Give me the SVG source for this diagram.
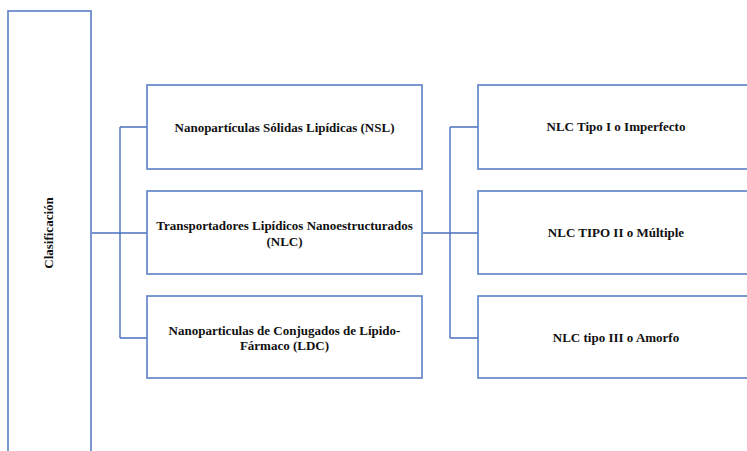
<svg xmlns="http://www.w3.org/2000/svg" width="747" height="451" viewBox="0 0 747 451">
<style>
.box{fill:#fff;stroke:#5a7fc6;stroke-width:1.6}
.ln{fill:none;stroke:#4a70bd;stroke-width:1.4}
.t{font-family:"Liberation Serif",serif;font-weight:bold;font-size:13px;fill:#111;text-anchor:middle}
</style>
<rect width="747" height="451" fill="#fff"/>
<g id="connectors">
<path class="ln" d="M92,233 H148 M120,127 V338 M120,127 H148 M120,338 H148"/>
<path class="ln" d="M423,233 H478 M450,127 V338 M450,127 H478 M450,338 H478"/>
</g>
<g id="clasificacion">
<rect class="box" x="8" y="11" width="83" height="460"/>
<text class="t" transform="translate(53,233) rotate(-90)">Clasificación</text>
</g>
<g id="nsl">
<rect class="box" x="147" y="85" width="275" height="84"/>
<text class="t" x="284.5" y="131.5">Nanopartículas Sólidas Lipídicas (NSL)</text>
</g>
<g id="nlc">
<rect class="box" x="147" y="191" width="275" height="83"/>
<text class="t" x="284.5" y="229.5">Transportadores Lipídicos Nanoestructurados</text>
<text class="t" x="284.5" y="245.5">(NLC)</text>
</g>
<g id="ldc">
<rect class="box" x="147" y="296" width="275" height="82"/>
<text class="t" x="284.5" y="334.5">Nanoparticulas de Conjugados de Lípido-</text>
<text class="t" x="284.5" y="350">Fármaco (LDC)</text>
</g>
<g id="tipo1">
<rect class="box" x="478" y="85" width="278" height="84"/>
<text class="t" x="616" y="131">NLC Tipo I o Imperfecto</text>
</g>
<g id="tipo2">
<rect class="box" x="478" y="191" width="278" height="83"/>
<text class="t" x="616" y="236.5">NLC TIPO II o Múltiple</text>
</g>
<g id="tipo3">
<rect class="box" x="478" y="296" width="278" height="82"/>
<text class="t" x="616" y="342">NLC tipo III o Amorfo</text>
</g>
</svg>
